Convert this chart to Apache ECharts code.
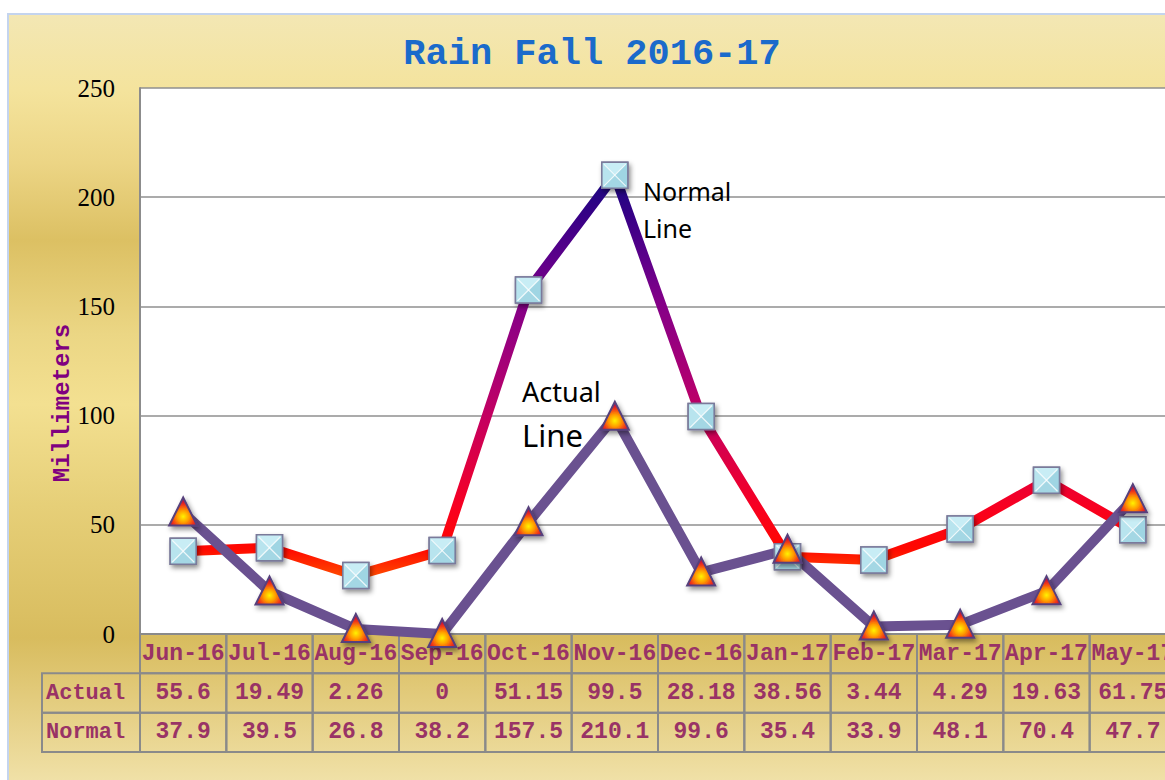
<!DOCTYPE html>
<html><head><meta charset="utf-8">
<script src="https://cdn.jsdelivr.net/npm/echarts@6/dist/echarts.min.js"></script>
<style>html,body{margin:0;padding:0;background:#fff}#c{width:1165px;height:780px}</style>
</head><body><div id="c"></div>
<script>
const categories = ['Jun-16','Jul-16','Aug-16','Sep-16','Oct-16','Nov-16','Dec-16','Jan-17','Feb-17','Mar-17','Apr-17','May-17'];
const actual = [55.6,19.49,2.26,0,51.15,99.5,28.18,38.56,3.44,4.29,19.63,61.75];
const normal = [37.9,39.5,26.8,38.2,157.5,210.1,99.6,35.4,33.9,48.1,70.4,47.7];
const rowNames = ['', 'Actual', 'Normal'];
const yMin = 0, yMax = 250, yStep = 50;

const chart = echarts.init(document.getElementById('c'), null, {renderer: 'svg'});
const TXT = '#993366';
const MONO = '"Liberation Mono","Courier New",monospace';

function renderCell(params, api) {
  const i = api.value(0), r = api.value(1);
  const c = api.coord([i, r]);
  const s = api.size([1, 1]);
  const w = s[0], h = s[1];
  const x0 = c[0] - w / 2, y0 = c[1] - h / 2;
  const txt = r === 0 ? categories[i] : (r === 1 ? String(actual[i]) : String(normal[i]));
  const children = [
    {type: 'rect', shape: {x: x0, y: y0, width: w, height: h}, style: {fill: 'none', stroke: '#8a8a8a', lineWidth: 2}},
    {type: 'text', style: {x: c[0], y: c[1], text: txt, align: 'center', verticalAlign: 'middle', font: 'bold 23px ' + MONO, fill: TXT}}
  ];
  if (i === 0 && r > 0) {
    children.push({type: 'rect', shape: {x: x0 - 98, y: y0, width: 98, height: h}, style: {fill: 'none', stroke: '#8a8a8a', lineWidth: 2}});
    children.push({type: 'text', style: {x: x0 - 94, y: c[1], text: rowNames[r], align: 'left', verticalAlign: 'middle', font: 'bold 22px ' + MONO, fill: TXT}});
  }
  return {type: 'group', children};
}

function renderSquare(params, api) {
  const p = api.coord([api.value(0), api.value(1)]);
  const x = p[0], y = p[1], s = 13;
  const TL = [x - s, y - s], TR = [x + s, y - s], BR = [x + s, y + s], BL = [x - s, y + s], C = [x, y];
  return {type: 'group', children: [
    {type: 'rect', shape: {x: x - s, y: y - s, width: 2 * s, height: 2 * s},
      style: {fill: '#a8dbe7', stroke: '#7a7a9a', lineWidth: 1.5, shadowBlur: 5, shadowOffsetX: 2, shadowOffsetY: 3, shadowColor: 'rgba(0,0,0,0.45)'}},
    {type: 'polygon', shape: {points: [TL, TR, C]}, style: {fill: '#c8edf5'}},
    {type: 'polygon', shape: {points: [TR, BR, C]}, style: {fill: '#9fd5e3'}},
    {type: 'polygon', shape: {points: [BR, BL, C]}, style: {fill: '#a4d7e4'}},
    {type: 'polygon', shape: {points: [BL, TL, C]}, style: {fill: '#b8e4ee'}},
    {type: 'polyline', shape: {points: [[x - s + 2, y - s + 2], [x + s - 2, y + s - 2]]}, style: {stroke: 'rgba(255,255,255,0.8)', lineWidth: 1.2}},
    {type: 'polyline', shape: {points: [[x + s - 2, y - s + 2], [x - s + 2, y + s - 2]]}, style: {stroke: 'rgba(255,255,255,0.8)', lineWidth: 1.2}},
    {type: 'rect', shape: {x: x - s, y: y - s, width: 2 * s, height: 2 * s}, style: {fill: 'none', stroke: '#7a7a9a', lineWidth: 1.5}}
  ]};
}

function renderTriangle(params, api) {
  const p = api.coord([api.value(0), api.value(1)]);
  const x = p[0], y = p[1];
  return {type: 'polygon', shape: {points: [[x, y - 15], [x + 14, y + 13], [x - 14, y + 13]]},
    style: {
      fill: {type: 'radial', x: 0.5, y: 0.68, r: 0.55, colorStops: [
        {offset: 0, color: '#fff200'}, {offset: 0.4, color: '#ff9a00'}, {offset: 0.75, color: '#f03818'}, {offset: 1, color: '#c8103a'}]},
      stroke: '#57407c', lineWidth: 2, shadowBlur: 5, shadowOffsetX: 2, shadowOffsetY: 3, shadowColor: 'rgba(0,0,0,0.45)'
    }};
}

const tableData = [];
for (let r = 0; r < 3; r++) for (let i = 0; i < categories.length; i++) tableData.push([i, r]);

const option = {
  animation: false,
  graphic: [
    {type: 'rect', z: -100, silent: true, shape: {x: 8, y: 14, width: 1170, height: 780},
      style: {stroke: '#c4d4ee', lineWidth: 2, fill: {type: 'linear', x: 0, y: 0, x2: 0, y2: 1, colorStops: [
        {offset: 0, color: '#f3e7b4'}, {offset: 0.1, color: '#f4e39c'}, {offset: 0.19, color: '#ecd585'},
        {offset: 0.29, color: '#dcc063'}, {offset: 0.41, color: '#ebd684'}, {offset: 0.5, color: '#f3e091'},
        {offset: 0.63, color: '#e6cf78'}, {offset: 0.8, color: '#d8bc5e'}, {offset: 0.88, color: '#e3cc7e'},
        {offset: 1, color: '#f2e4ae'}]}}},
    {type: 'text', z: 100, x: 592, y: 54, style: {text: 'Rain Fall 2016-17', align: 'center', verticalAlign: 'middle', font: 'bold 37px ' + MONO, fill: '#1a6acb'}},
    {type: 'text', z: 100, x: 62, y: 403, rotation: Math.PI / 2, style: {text: 'Millimeters', align: 'center', verticalAlign: 'middle', font: 'bold 24px ' + MONO, fill: '#800080'}},
    {type: 'text', z: 100, x: 643, y: 191, style: {text: 'Normal', align: 'left', verticalAlign: 'middle', font: '25px "Noto Sans"', fill: '#000'}},
    {type: 'text', z: 100, x: 643, y: 228, style: {text: 'Line', align: 'left', verticalAlign: 'middle', font: '25px "Noto Sans"', fill: '#000'}},
    {type: 'text', z: 100, x: 522, y: 391, style: {text: 'Actual', align: 'left', verticalAlign: 'middle', font: '27px "Noto Sans"', fill: '#000'}},
    {type: 'text', z: 100, x: 522, y: 435, style: {text: 'Line', align: 'left', verticalAlign: 'middle', font: '31px "Noto Sans"', fill: '#000'}}
  ],
  grid: [
    {left: 140, top: 88, width: 1036, height: 546, show: true, backgroundColor: '#ffffff', borderWidth: 0, outerBoundsMode: 'none', containLabel: false},
    {left: 140, top: 634, width: 1036, height: 118, show: false, outerBoundsMode: 'none', containLabel: false}
  ],
  xAxis: [
    {type: 'category', gridIndex: 0, data: categories, boundaryGap: true, axisLine: {show: false}, axisTick: {show: false}, axisLabel: {show: false}, splitLine: {show: false}},
    {type: 'category', gridIndex: 1, data: categories, boundaryGap: true, show: false}
  ],
  yAxis: [
    {type: 'value', gridIndex: 0, min: yMin, max: yMax, interval: yStep,
      axisLine: {show: true, lineStyle: {color: '#8c8c8c', width: 2}}, axisTick: {show: false},
      axisLabel: {margin: 25, fontFamily: '"Liberation Serif","Times New Roman",serif', fontSize: 25, color: '#000'},
      splitLine: {show: true, lineStyle: {color: '#8f8f8f', width: 1.5}}},
    {type: 'category', gridIndex: 1, data: rowNames, inverse: true, show: false}
  ],
  visualMap: {
    type: 'continuous', show: false, seriesIndex: 0, dimension: 1, min: 20, max: 210,
    inRange: {color: ['#ff6a00', '#ff0800', '#f80020', '#e00040', '#c8005c', '#b00070', '#98007e', '#820088', '#5c008a', '#380086', '#160880']}
  },
  series: [
    {name: 'Normal', type: 'line', xAxisIndex: 0, yAxisIndex: 0, data: normal, symbol: 'none', z: 3,
      lineStyle: {width: 10, cap: 'round', join: 'round'}},
    {name: 'Actual', type: 'line', xAxisIndex: 0, yAxisIndex: 0, data: actual, symbol: 'none', z: 4,
      lineStyle: {width: 10, color: '#6a5190', join: 'round'}},
    {name: 'Table', type: 'custom', xAxisIndex: 1, yAxisIndex: 1, data: tableData, renderItem: renderCell, z: 2, silent: true},
    {name: 'NormalMarkers', type: 'custom', xAxisIndex: 0, yAxisIndex: 0, data: normal.map((v, i) => [i, v]), encode: {x: 0, y: 1}, renderItem: renderSquare, z: 6, clip: false},
    {name: 'ActualMarkers', type: 'custom', xAxisIndex: 0, yAxisIndex: 0, data: actual.map((v, i) => [i, v]), encode: {x: 0, y: 1}, renderItem: renderTriangle, z: 7, clip: false}
  ]
};
chart.setOption(option);
</script>
</body></html>
